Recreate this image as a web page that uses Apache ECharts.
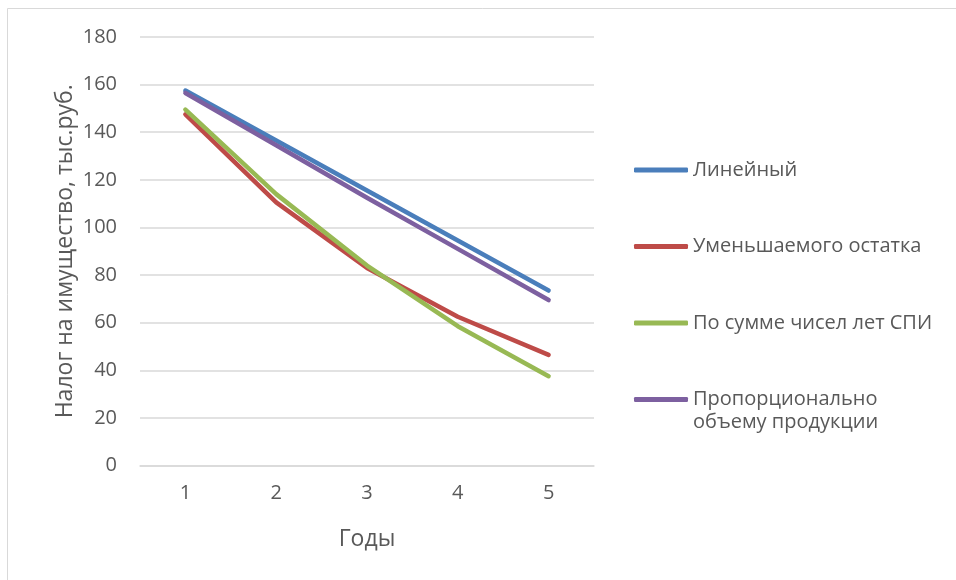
<!DOCTYPE html>
<html>
<head>
<meta charset="utf-8">
<script src="https://cdn.jsdelivr.net/npm/echarts@6/dist/echarts.min.js"></script>
<style>
html,body{margin:0;padding:0;background:#fff;}
#chart{width:956px;height:580px;}
</style>
</head>
<body>
<div id="chart"></div>
<script>
var categories = ['1', '2', '3', '4', '5'];
var seriesNames = ['Линейный', 'Уменьшаемого остатка', 'По сумме чисел лет СПИ', 'Пропорционально объему продукции'];
var linear = [157.5, 136.5, 115.5, 94.5, 73.5];
var declining = [147.5, 110.5, 83, 62.5, 46.5];
var sumOfYears = [149.5, 114, 84, 58.5, 37.5];
var proportional = [156.5, 134.5, 112.5, 91, 69.5];
var yTicks = [0, 20, 40, 60, 80, 100, 120, 140, 160, 180];

var colors = ['#4a7ebb', '#be4b48', '#98b954', '#7d60a0'];
var font = '"Open Sans", "Noto Sans", sans-serif';
var textColor = '#595959';
var values = [linear, declining, sumOfYears, proportional];

var chart = echarts.init(document.getElementById('chart'), null, {renderer: 'canvas'});
var legendCommon = {
  orient: 'vertical',
  left: 634,
  padding: 0,
  itemWidth: 54,
  itemHeight: 5,
  icon: 'roundRect',
  selectedMode: false,
  textStyle: {fontFamily: font, fontSize: 20, color: textColor, lineHeight: 23}
};
chart.setOption({
  backgroundColor: '#ffffff',
  animation: false,
  color: colors,
  graphic: [{
    type: 'rect',
    shape: {x: 7.5, y: 8.5, width: 2000, height: 2000},
    style: {fill: 'none', stroke: '#d9d9d9', lineWidth: 1},
    silent: true
  }],
  grid: {left: 140, right: 362, top: 37, bottom: 114.5, containLabel: false},
  legend: [
    Object.assign({}, legendCommon, {
      top: 158.5,
      itemGap: 53.5,
      data: seriesNames.slice(0, 3)
    }),
    Object.assign({}, legendCommon, {
      top: 365,
      data: [seriesNames[3]],
      formatter: function () { return '\nПропорционально\nобъему продукции'; }
    })
  ],
  xAxis: {
    type: 'category',
    data: categories,
    boundaryGap: true,
    name: 'Годы',
    nameLocation: 'middle',
    nameGap: 62,
    nameTextStyle: {fontFamily: font, fontSize: 23, color: textColor},
    axisLine: {show: true, lineStyle: {color: '#d9d9d9', width: 1.5}},
    axisTick: {show: false},
    axisLabel: {fontFamily: font, fontSize: 20, color: textColor, margin: 18}
  },
  yAxis: {
    type: 'value',
    min: yTicks[0],
    max: yTicks[yTicks.length - 1],
    interval: 20,
    name: 'Налог на имущество, тыс.руб.',
    nameLocation: 'middle',
    nameGap: 63,
    nameRotate: 90,
    nameTextStyle: {fontFamily: font, fontSize: 23, color: textColor},
    axisLine: {show: false},
    axisTick: {show: false},
    splitLine: {show: true, lineStyle: {color: '#d9d9d9', width: 1.5}},
    axisLabel: {fontFamily: font, fontSize: 20, color: textColor, margin: 23}
  },
  series: seriesNames.map(function (n, i) {
    return {
      name: n,
      type: 'line',
      data: values[i],
      symbol: 'none',
      showSymbol: false,
      lineStyle: {width: 4.5, color: colors[i], cap: 'round', join: 'round'},
      itemStyle: {color: colors[i]}
    };
  })
});
</script>
</body>
</html>
